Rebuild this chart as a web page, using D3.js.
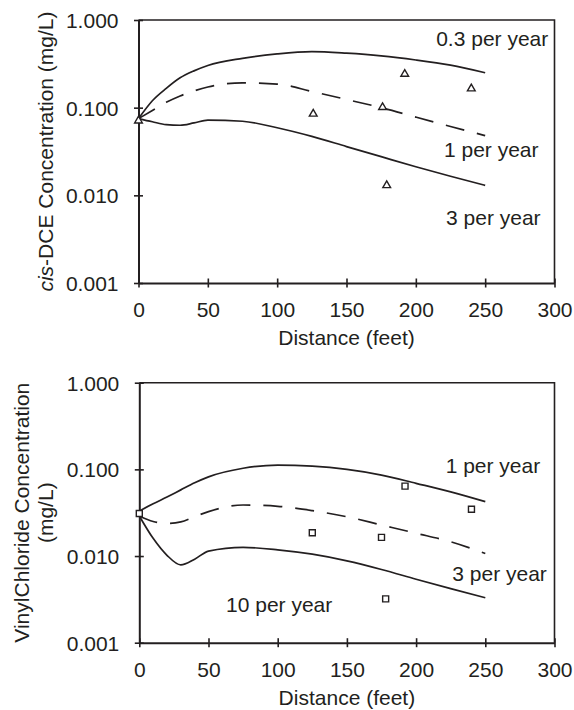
<!DOCTYPE html>
<html>
<head>
<meta charset="utf-8">
<script src="https://cdnjs.cloudflare.com/ajax/libs/d3/7.8.5/d3.min.js"></script>
<style>
	body { margin: 0; background: #fff; }
	svg text { font-family: "Liberation Sans", Arial, sans-serif; fill: #231f20; }
</style>
</head>
<body>
<div id="chart"></div>
<script>
/* first-order decay model vs. observed, cis-DCE and vinyl chloride */

// distances (feet) the model curves were read at
var distFt = [0, 10, 20, 30, 40, 50, 75, 100, 125, 150, 175, 200, 225, 250];

// cis-DCE model curves (mg/L)
var dce03 = [0.075, 0.12, 0.166, 0.219, 0.263, 0.303, 0.365, 0.41, 0.435, 0.418, 0.39, 0.35, 0.305, 0.25];
var dce1  = [0.075, 0.093, 0.115, 0.136, 0.155, 0.172, 0.192, 0.186, 0.153, 0.124, 0.1, 0.078, 0.061, 0.048];
var dce3  = [0.075, 0.069, 0.064, 0.063, 0.067, 0.072, 0.07, 0.059, 0.047, 0.036, 0.0276, 0.0212, 0.0165, 0.013];

// cis-DCE observed
var dceObsX = [0, 126, 176, 179, 192, 240];
var dceObsY = [0.071, 0.085, 0.101, 0.013, 0.242, 0.165];

// vinyl chloride model curves (mg/L)
var vc1  = [0.033, 0.04, 0.048, 0.058, 0.07, 0.082, 0.103, 0.112, 0.109, 0.1, 0.086, 0.069, 0.055, 0.0424];
var vc3  = [0.029, 0.025, 0.0238, 0.0248, 0.0285, 0.0325, 0.0388, 0.0375, 0.0334, 0.0284, 0.0228, 0.0183, 0.0146, 0.0107];
var vc10 = [0.029, 0.016, 0.0102, 0.0079, 0.0092, 0.0114, 0.0126, 0.0118, 0.0105, 0.0088, 0.007, 0.0054, 0.0042, 0.0033];

// vinyl chloride observed
var vcObsX = [0, 125, 175, 178, 192, 240];
var vcObsY = [0.031, 0.0186, 0.0164, 0.0032, 0.064, 0.0346];

var xTicks = [0, 50, 100, 150, 200, 250, 300];
var yTicks = [1, 0.1, 0.01, 0.001];

var ink = '#231f20';

var svg = d3.select('#chart').append('svg')
	.attr('width', 574)
	.attr('height', 710);


var LogPanel = function(config){
	this.top = config.top;
	this.bottom = config.bottom;
	this.left = config.left;
	this.right = 554.5;

	this.g = svg.append('g');

	this.setupScales();
	this.addFrame();
	this.addAxes();
	config.curves.forEach(c => this.addCurve(c.values, c.dashed));
	this.addPoints(config.obsX, config.obsY, config.symbol);
	config.labels.forEach(l => this.addLabel(l));
}

LogPanel.prototype.setupScales = function(){
	this.x = d3.scaleLinear()
		.domain([0, 300])
		.range([this.left, this.right]);

	this.y = d3.scaleLog()
		.domain([0.001, 1])
		.range([this.bottom, this.top]);
}

LogPanel.prototype.addFrame = function(){
	// thin top and right edges of the box
	this.g.append('path')
		.attr('d', `M${this.left},${this.top}H${this.right}V${this.bottom}`)
		.attr('fill', 'none')
		.attr('stroke', ink)
		.attr('stroke-width', 1.6);
}

LogPanel.prototype.addAxes = function(){
	let xAxis = d3.axisBottom(this.x)
		.tickValues(xTicks)
		.tickSizeInner(4)
		.tickSizeOuter(0)
		.tickPadding(15);

	let yAxis = d3.axisLeft(this.y)
		.tickValues(yTicks)
		.tickFormat(d3.format('.3f'))
		.tickSizeInner(4)
		.tickSizeOuter(0)
		.tickPadding(16);

	let gx = this.g.append('g')
		.attr('transform', `translate(0,${this.bottom})`)
		.call(xAxis);

	let gy = this.g.append('g')
		.attr('transform', `translate(${this.left},0)`)
		.call(yAxis);

	// ticks cross the axis line
	gx.selectAll('.tick line').attr('y1', -4.5).attr('y2', 4.5);
	gy.selectAll('.tick line').attr('x1', -4.5).attr('x2', 4.5);

	[gx, gy].forEach(a => {
		a.select('.domain').attr('stroke', ink).attr('stroke-width', 2);
		a.selectAll('.tick line').attr('stroke', ink).attr('stroke-width', 1.6);
		a.selectAll('.tick text').style('font-size', '21px');
	});
	gy.selectAll('.tick text').attr('dy', '0.36em');

	this.g.append('text')
		.attr('x', (this.left + this.right) / 2)
		.attr('y', this.bottom + 62)
		.attr('text-anchor', 'middle')
		.style('font-size', '21px')
		.text('Distance (feet)');
}

LogPanel.prototype.addCurve = function(values, dashed){
	let line = d3.line()
		.x((d, i) => this.x(distFt[i]))
		.y(d => this.y(d))
		.curve(d3.curveMonotoneX);

	this.g.append('path')
		.attr('d', line(values))
		.attr('fill', 'none')
		.attr('stroke', ink)
		.attr('stroke-width', 1.7)
		.attr('stroke-dasharray', dashed ? '19,13' : null);
}

LogPanel.prototype.addPoints = function(xs, ys, type){
	let sym = d3.symbol()
		.type(type)
		.size(type === d3.symbolSquare ? 36 : 26);

	this.g.selectAll('.obs')
		.data(xs.map((d, i) => [d, ys[i]]))
		.enter()
		.append('path')
		.attr('d', sym)
		.attr('transform', d => `translate(${this.x(d[0])},${this.y(d[1])})`)
		.attr('fill', '#fff')
		.attr('stroke', ink)
		.attr('stroke-width', 1.4);
}

LogPanel.prototype.addLabel = function(l){
	this.g.append('text')
		.attr('x', this.x(l.x))
		.attr('y', this.y(l.y))
		.attr('text-anchor', l.anchor)
		.style('font-size', '21px')
		.text(l.text);
}


var dcePanel = new LogPanel({
	top: 20, bottom: 283, left: 138.5,
	curves: [{values: dce03}, {values: dce1, dashed: true}, {values: dce3}],
	obsX: dceObsX, obsY: dceObsY, symbol: d3.symbolTriangle,
	labels: [
		{text: '0.3 per year', x: 295.5, y: 0.51, anchor: 'end'},
		{text: '1 per year', x: 288.5, y: 0.0272, anchor: 'end'},
		{text: '3 per year', x: 290, y: 0.0046, anchor: 'end'}
	]
});

var vcPanel = new LogPanel({
	top: 382.7, bottom: 642.7, left: 139.3,
	curves: [{values: vc1}, {values: vc3, dashed: true}, {values: vc10}],
	obsX: vcObsX, obsY: vcObsY, symbol: d3.symbolSquare,
	labels: [
		{text: '1 per year', x: 289.7, y: 0.09, anchor: 'end'},
		{text: '3 per year', x: 294.5, y: 0.0052, anchor: 'end'},
		{text: '10 per year', x: 62.7, y: 0.00228, anchor: 'start'}
	]
});

// y axis titles
var t1 = svg.append('text')
	.attr('transform', `translate(53,${(20 + 283) / 2}) rotate(-90)`)
	.attr('text-anchor', 'middle')
	.style('font-size', '21px');
t1.append('tspan').style('font-style', 'italic').text('cis');
t1.append('tspan').text('-DCE Concentration (mg/L)');

var t2 = svg.append('text')
	.attr('transform', `translate(0,${(382.7 + 642.7) / 2}) rotate(-90)`)
	.attr('text-anchor', 'middle')
	.style('font-size', '21px');
t2.append('tspan').attr('x', 0).attr('y', 28.6).text('VinylChloride Concentration');
t2.append('tspan').attr('x', 0).attr('y', 52.6).text('(mg/L)');
</script>
</body>
</html>
